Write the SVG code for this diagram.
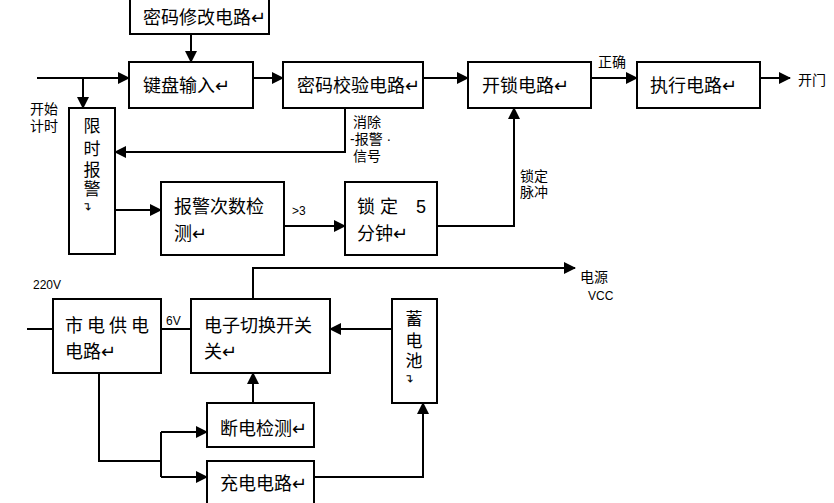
<svg xmlns="http://www.w3.org/2000/svg" width="834" height="503" viewBox="0 0 834 503">
<defs>
<style>
.b{fill:#fff;stroke:#000;stroke-width:2}
.t{font-family:"Liberation Sans","Noto Sans CJK SC",sans-serif;font-size:18px;fill:#000}
.v{font-family:"Liberation Sans","Noto Sans CJK SC",sans-serif;font-size:17px;fill:#000}
.s{font-family:"Liberation Sans","Noto Sans CJK SC",sans-serif;font-size:14px;fill:#000}
.n{font-family:"Liberation Sans","Noto Sans CJK SC",sans-serif;font-size:12px;fill:#000}
.c{fill:none;stroke:#000;stroke-width:2}
</style>
<marker id="a" markerUnits="userSpaceOnUse" markerWidth="12" markerHeight="12" refX="11" refY="6" orient="auto">
<path d="M0,0 L12,6 L0,12 z" fill="#000"/>
</marker>
</defs>
<rect width="834" height="503" fill="#fff"/>
<g id="connectors">
<path class="c" d="M191,34 V62" marker-end="url(#a)"/>
<path class="c" d="M37,78 H129" marker-end="url(#a)"/>
<path class="c" d="M83,78 V108" marker-end="url(#a)"/>
<path class="c" d="M253,78 H283" marker-end="url(#a)"/>
<path class="c" d="M423,78 H468" marker-end="url(#a)"/>
<path class="c" d="M591,78 H637" marker-end="url(#a)"/>
<path class="c" d="M760,78 H790" marker-end="url(#a)"/>
<path class="c" d="M345,108 V152 H115" marker-end="url(#a)"/>
<path class="c" d="M115,210 H161" marker-end="url(#a)"/>
<path class="c" d="M284,226 H345" marker-end="url(#a)"/>
<path class="c" d="M437,226 H514 V108" marker-end="url(#a)"/>
<path class="c" d="M253,299 V268 H575" marker-end="url(#a)"/>
<path class="c" d="M27,329 H53"/>
<path class="c" d="M161,329 H191"/>
<path class="c" d="M392,329 H330" marker-end="url(#a)"/>
<path class="c" d="M253,403 V373" marker-end="url(#a)"/>
<path class="c" d="M99,373 V461 H161"/>
<path class="c" d="M161,432 V477"/>
<path class="c" d="M161,432 H207" marker-end="url(#a)"/>
<path class="c" d="M161,477 H207" marker-end="url(#a)"/>
<path class="c" d="M314,477 H423 V403" marker-end="url(#a)"/>
</g>
<g id="labels">
<text class="s" x="598" y="67">正确</text>
<text class="s" x="798" y="85">开门</text>
<text class="s" x="30" y="114">开始</text>
<text class="s" x="30" y="131">计时</text>
<text class="s" x="353" y="127">消除</text>
<text class="s" x="350" y="144">-报警 ·</text>
<text class="s" x="353" y="161">信号</text>
<text class="n" x="292" y="215" font-size="13">&gt;3</text>
<text class="s" x="520" y="181">锁定</text>
<text class="s" x="520" y="197">脉冲</text>
<text class="n" x="33" y="289">220V</text>
<text class="n" x="166" y="325">6V</text>
<text class="s" x="580" y="282">电源</text>
<text class="n" x="588" y="300">VCC</text>
</g>
<g id="n1"><rect class="b" x="130" y="-5" width="139" height="39"/><text class="t" x="143" y="24">密码修改电路↵</text></g>
<g id="n2"><rect class="b" x="129" y="62" width="124" height="46"/><text class="t" x="143" y="92">键盘输入↵</text></g>
<g id="n3"><rect class="b" x="283" y="62" width="140" height="46"/><text class="t" x="297" y="92">密码校验电路↵</text></g>
<g id="n4"><rect class="b" x="468" y="62" width="123" height="46"/><text class="t" x="482" y="92">开锁电路↵</text></g>
<g id="n5"><rect class="b" x="637" y="62" width="123" height="46"/><text class="t" x="650" y="92">执行电路↵</text></g>
<g id="n6"><rect class="b" x="69" y="108" width="46" height="146"/>
<text class="v" font-size="16" text-anchor="middle"><tspan x="92" y="132">限</tspan><tspan x="92" y="155">时</tspan><tspan x="92" y="176">报</tspan><tspan x="92" y="195">警</tspan></text>
<text class="n" transform="translate(92,206) rotate(-90)" text-anchor="middle">↵</text></g>
<g id="n7"><rect class="b" x="161" y="182" width="123" height="73"/><text class="t" x="174" y="213">报警次数检</text><text class="t" x="174" y="240">测↵</text></g>
<g id="n8"><rect class="b" x="345" y="182" width="92" height="73"/><text class="t" x="357" y="213">锁 定</text><text class="t" x="416" y="213">5</text><text class="t" x="357" y="240">分钟↵</text></g>
<g id="n9"><rect class="b" x="53" y="299" width="108" height="74"/><text class="t" x="65" y="332" letter-spacing="4">市电供电</text><text class="t" x="65" y="358">电路↵</text></g>
<g id="n10"><rect class="b" x="191" y="299" width="139" height="74"/><text class="t" x="204" y="332">电子切换开关</text><text class="t" x="204" y="358">关↵</text></g>
<g id="n11"><rect class="b" x="392" y="299" width="45" height="104"/>
<text class="v" text-anchor="middle"><tspan x="414" y="325">蓄</tspan><tspan x="414" y="347">电</tspan><tspan x="414" y="367">池</tspan></text>
<text class="n" transform="translate(414,378) rotate(-90)" text-anchor="middle">↵</text></g>
<g id="n12"><rect class="b" x="207" y="403" width="107" height="44"/><text class="t" x="220" y="435">断电检测↵</text></g>
<g id="n13"><rect class="b" x="207" y="461" width="107" height="50"/><text class="t" x="220" y="490">充电电路↵</text></g>
</svg>
